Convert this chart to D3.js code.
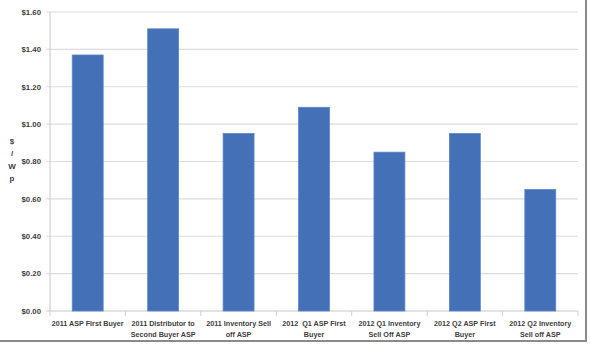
<!DOCTYPE html>
<html><head><meta charset="utf-8">
<script src="https://cdn.jsdelivr.net/npm/d3@7"></script>
<style>body{margin:0;background:#fff}svg{display:block}text{font-family:"Liberation Sans",Arial,sans-serif;font-weight:bold;fill:#404040;white-space:pre}</style>
</head><body><div id="c"></div>
<script>
const categories = [
  ["2011 ASP First Buyer"],
  ["2011 Distributor to","Second Buyer ASP"],
  ["2011 Inventory Sell","off ASP"],
  ["2012  Q1 ASP First","Buyer"],
  ["2012 Q1 Inventory","Sell Off ASP"],
  ["2012 Q2 ASP First","Buyer"],
  ["2012 Q2 Inventory","Sell off ASP"]
];
const values = [1.37, 1.51, 0.95, 1.09, 0.85, 0.95, 0.65];
const yTicks = [0,0.2,0.4,0.6,0.8,1.0,1.2,1.4,1.6];
const yTitle = ["$","/","W","p"];

const W=591,H=351;
const svg=d3.select("#c").append("svg").attr("width",W).attr("height",H);
const x=d3.scaleBand().domain(d3.range(categories.length)).range([50,578]).paddingInner(0.59).paddingOuter(0.295);
const xb=d3.scaleBand().domain(d3.range(categories.length)).range([50,578]);
const y=d3.scaleLinear().domain([0,1.6]).range([311,12]);

// gridlines
svg.append("g").selectAll("line").data(yTicks).join("line")
 .attr("x1",46).attr("x2",578).attr("y1",d=>y(d)).attr("y2",d=>y(d))
 .attr("stroke",d=>d===0?"#c8c8c8":"#dcdcdc").attr("stroke-width",1.2);
// y axis line
svg.append("line").attr("x1",50).attr("x2",50).attr("y1",12).attr("y2",311).attr("stroke","#cfcfcf").attr("stroke-width",1.2);
// y tick labels
const fmt=d=>"$"+d.toFixed(2);
svg.append("g").selectAll("text").data(yTicks).join("text")
 .attr("x",41).attr("y",d=>y(d)+2.8).attr("text-anchor","end").attr("font-size",7.8).text(fmt);
// y title
svg.append("g").selectAll("text").data(yTitle).join("text")
 .attr("x",12).attr("y",(d,i)=>144+i*12.3).attr("text-anchor","middle").attr("font-size",8).text(d=>d);
// category ticks
svg.append("g").selectAll("line").data(d3.range(categories.length+1)).join("line")
 .attr("x1",i=>i<categories.length?xb(i):578).attr("x2",i=>i<categories.length?xb(i):578)
 .attr("y1",311).attr("y2",316).attr("stroke","#cfcfcf");
// bars
svg.append("g").selectAll("rect").data(values).join("rect")
 .attr("x",(d,i)=>x(i)).attr("width",x.bandwidth())
 .attr("y",d=>y(d)).attr("height",d=>y(0)-y(d))
 .attr("fill","#4470b8").attr("stroke","#5a86c8").attr("stroke-width",0.8);
// category labels
const cl=svg.append("g").selectAll("text").data(categories).join("text")
 .attr("text-anchor","middle").attr("font-size",7.2);
cl.each(function(lines,i){
  d3.select(this).selectAll("tspan").data(lines).join("tspan")
   .attr("x",x(i)+x.bandwidth()/2).attr("y",(d,j)=>326+j*10.5).text(d=>d);
});
// frame
svg.append("line").attr("x1",586).attr("x2",586).attr("y1",0).attr("y2",342).attr("stroke","#8a8a8a").attr("stroke-width",2);
svg.append("line").attr("x1",0).attr("x2",587).attr("y1",341).attr("y2",341).attr("stroke","#8a8a8a").attr("stroke-width",2);
</script></body></html>
